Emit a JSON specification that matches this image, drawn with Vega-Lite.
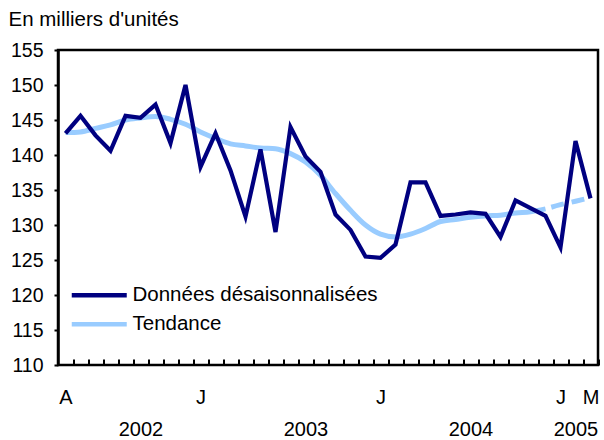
{
  "$schema": "https://vega.github.io/schema/vega-lite/v6.json",
  "width": 540,
  "height": 315,
  "autosize": {"type": "none"},
  "padding": {"left": 58, "top": 50, "right": 6, "bottom": 75},
  "background": "white",
  "config": {
    "font": "Liberation Sans",
    "view": {"stroke": "black", "strokeWidth": 2.5},
    "axis": {"grid": false, "domainColor": "black", "domainWidth": 2.5, "tickColor": "black", "tickWidth": 2, "labelColor": "black", "labelFont": "Liberation Sans", "labelFontSize": 19.5, "titleFont": "Liberation Sans"}
  },
  "data": {
    "values": [
      {"mois": "2002-04", "serie": "Données désaisonnalisées", "valeur": 143.1},
      {"mois": "2002-05", "serie": "Données désaisonnalisées", "valeur": 145.6},
      {"mois": "2002-06", "serie": "Données désaisonnalisées", "valeur": 142.8},
      {"mois": "2002-07", "serie": "Données désaisonnalisées", "valeur": 140.6},
      {"mois": "2002-08", "serie": "Données désaisonnalisées", "valeur": 145.6},
      {"mois": "2002-09", "serie": "Données désaisonnalisées", "valeur": 145.3},
      {"mois": "2002-10", "serie": "Données désaisonnalisées", "valeur": 147.2},
      {"mois": "2002-11", "serie": "Données désaisonnalisées", "valeur": 141.7},
      {"mois": "2002-12", "serie": "Données désaisonnalisées", "valeur": 150.0},
      {"mois": "2003-01", "serie": "Données désaisonnalisées", "valeur": 138.3},
      {"mois": "2003-02", "serie": "Données désaisonnalisées", "valeur": 143.1},
      {"mois": "2003-03", "serie": "Données désaisonnalisées", "valeur": 137.8},
      {"mois": "2003-04", "serie": "Données désaisonnalisées", "valeur": 131.2},
      {"mois": "2003-05", "serie": "Données désaisonnalisées", "valeur": 140.8},
      {"mois": "2003-06", "serie": "Données désaisonnalisées", "valeur": 129.0},
      {"mois": "2003-07", "serie": "Données désaisonnalisées", "valeur": 144.0},
      {"mois": "2003-08", "serie": "Données désaisonnalisées", "valeur": 139.8},
      {"mois": "2003-09", "serie": "Données désaisonnalisées", "valeur": 137.6},
      {"mois": "2003-10", "serie": "Données désaisonnalisées", "valeur": 131.5},
      {"mois": "2003-11", "serie": "Données désaisonnalisées", "valeur": 129.3},
      {"mois": "2003-12", "serie": "Données désaisonnalisées", "valeur": 125.5},
      {"mois": "2004-01", "serie": "Données désaisonnalisées", "valeur": 125.3},
      {"mois": "2004-02", "serie": "Données désaisonnalisées", "valeur": 127.2},
      {"mois": "2004-03", "serie": "Données désaisonnalisées", "valeur": 136.1},
      {"mois": "2004-04", "serie": "Données désaisonnalisées", "valeur": 136.1},
      {"mois": "2004-05", "serie": "Données désaisonnalisées", "valeur": 131.3},
      {"mois": "2004-06", "serie": "Données désaisonnalisées", "valeur": 131.5},
      {"mois": "2004-07", "serie": "Données désaisonnalisées", "valeur": 131.8},
      {"mois": "2004-08", "serie": "Données désaisonnalisées", "valeur": 131.6},
      {"mois": "2004-09", "serie": "Données désaisonnalisées", "valeur": 128.3},
      {"mois": "2004-10", "serie": "Données désaisonnalisées", "valeur": 133.5},
      {"mois": "2004-11", "serie": "Données désaisonnalisées", "valeur": 132.4},
      {"mois": "2004-12", "serie": "Données désaisonnalisées", "valeur": 131.3},
      {"mois": "2005-01", "serie": "Données désaisonnalisées", "valeur": 126.8},
      {"mois": "2005-02", "serie": "Données désaisonnalisées", "valeur": 142.0},
      {"mois": "2005-03", "serie": "Données désaisonnalisées", "valeur": 133.8},
      {"mois": "2002-04", "serie": "Tendance", "valeur": 143.2},
      {"mois": "2002-05", "serie": "Tendance", "valeur": 143.3},
      {"mois": "2002-06", "serie": "Tendance", "valeur": 143.8},
      {"mois": "2002-07", "serie": "Tendance", "valeur": 144.3},
      {"mois": "2002-08", "serie": "Tendance", "valeur": 145.0},
      {"mois": "2002-09", "serie": "Tendance", "valeur": 145.3},
      {"mois": "2002-10", "serie": "Tendance", "valeur": 145.5},
      {"mois": "2002-11", "serie": "Tendance", "valeur": 145.1},
      {"mois": "2002-12", "serie": "Tendance", "valeur": 144.4},
      {"mois": "2003-01", "serie": "Tendance", "valeur": 143.3},
      {"mois": "2003-02", "serie": "Tendance", "valeur": 142.4},
      {"mois": "2003-03", "serie": "Tendance", "valeur": 141.6},
      {"mois": "2003-04", "serie": "Tendance", "valeur": 141.3},
      {"mois": "2003-05", "serie": "Tendance", "valeur": 141.0},
      {"mois": "2003-06", "serie": "Tendance", "valeur": 140.9},
      {"mois": "2003-07", "serie": "Tendance", "valeur": 140.2},
      {"mois": "2003-08", "serie": "Tendance", "valeur": 139.0},
      {"mois": "2003-09", "serie": "Tendance", "valeur": 137.1},
      {"mois": "2003-10", "serie": "Tendance", "valeur": 134.5},
      {"mois": "2003-11", "serie": "Tendance", "valeur": 132.1},
      {"mois": "2003-12", "serie": "Tendance", "valeur": 130.0},
      {"mois": "2004-01", "serie": "Tendance", "valeur": 128.7},
      {"mois": "2004-02", "serie": "Tendance", "valeur": 128.3},
      {"mois": "2004-03", "serie": "Tendance", "valeur": 128.7},
      {"mois": "2004-04", "serie": "Tendance", "valeur": 129.5},
      {"mois": "2004-05", "serie": "Tendance", "valeur": 130.5},
      {"mois": "2004-06", "serie": "Tendance", "valeur": 130.8},
      {"mois": "2004-07", "serie": "Tendance", "valeur": 131.1},
      {"mois": "2004-08", "serie": "Tendance", "valeur": 131.3},
      {"mois": "2004-09", "serie": "Tendance", "valeur": 131.4},
      {"mois": "2004-10", "serie": "Tendance", "valeur": 131.7},
      {"mois": "2004-11", "serie": "Tendance", "valeur": 131.9},
      {"mois": "2004-12", "serie": "Tendance", "valeur": 132.3},
      {"mois": "2005-01", "serie": "Tendance", "valeur": 132.9},
      {"mois": "2005-02", "serie": "Tendance", "valeur": 133.4},
      {"mois": "2005-03", "serie": "Tendance", "valeur": 133.9}
    ]
  },
  "encoding": {
    "x": {
      "field": "mois", "type": "ordinal", "sort": null,
      "scale": {"type": "point", "padding": 0.5},
      "axis": {
        "orient": "bottom", "offset": -13.5, "translate": 8, "zindex": 1, "domain": false, "title": null, "labelAngle": 0, "labelOverlap": false, "labelBound": false,
        "ticks": true, "tickSize": 6, "tickColor": "black", "tickWidth": 2, "labelOffset": -7.5,
        "labelPadding": 22, "labelLineHeight": 32, "labelBaseline": "top", "labelFontSize": 20,
        "labelExpr": "datum.value == '2002-04' ? 'A' : (datum.value == '2003-01' || datum.value == '2004-01' || datum.value == '2005-01') ? 'J' : datum.value == '2005-03' ? 'M' : datum.value == '2002-09' ? ['', '2002'] : datum.value == '2003-08' ? ['', '2003'] : datum.value == '2004-07' ? ['', '2004'] : datum.value == '2005-02' ? ['', '2005'] : ''"
      }
    },
    "y": {
      "field": "valeur", "type": "quantitative",
      "scale": {"domain": [110, 155], "nice": false, "zero": false},
      "axis": {
        "values": [110, 115, 120, 125, 130, 135, 140, 145, 150, 155],
        "ticks": true, "tickSize": 4, "labelPadding": 11,
        "title": "En milliers d'unités", "titleAngle": 0, "titleAlign": "left", "titleBaseline": "alphabetic",
        "titleX": -50, "titleY": -25, "titleFontSize": 20.5, "titleFontWeight": "normal", "titleColor": "black"
      }
    },
    "color": {
      "field": "serie", "type": "nominal",
      "scale": {"domain": ["Données désaisonnalisées", "Tendance"], "range": ["#000080", "#99CCFF"]},
      "legend": {
        "title": null, "orient": "none", "legendX": 31, "legendY": 235,
        "symbolType": "M-5,0H5", "symbolSize": 121, "symbolStrokeWidth": 4.5,
        "labelFontSize": 20.5, "labelColor": "black", "labelOffset": 23, "labelLimit": 400, "rowPadding": 8
      }
    }
  },
  "layer": [
    {
      "transform": [{"filter": "datum.serie == 'Tendance' && datum.mois <= '2004-12'"}],
      "mark": {"type": "line", "strokeWidth": 5, "interpolate": "monotone"}
    },
    {
      "transform": [{"filter": "datum.serie == 'Tendance' && datum.mois >= '2004-12'"}],
      "mark": {"type": "line", "strokeWidth": 5, "interpolate": "monotone", "strokeDash": [13, 8], "strokeDashOffset": 15}
    },
    {
      "transform": [{"filter": "datum.serie == 'Données désaisonnalisées'"}],
      "mark": {"type": "line", "strokeWidth": 4.2, "strokeJoin": "miter"}
    }
  ]
}
